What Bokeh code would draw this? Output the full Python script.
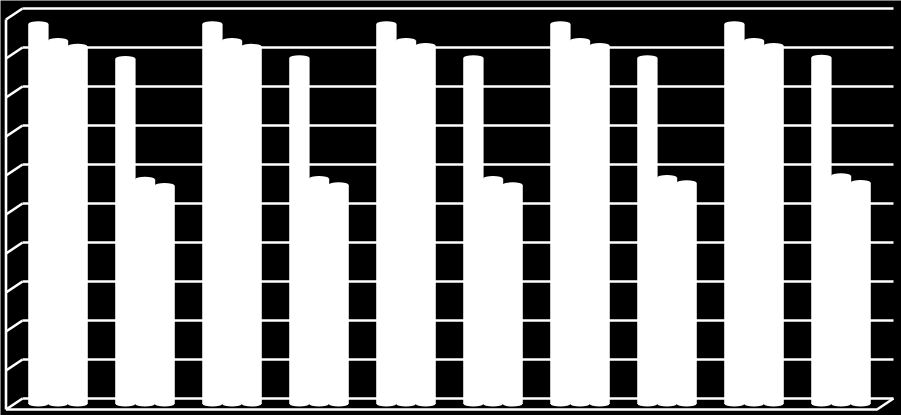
from bokeh.plotting import figure
from bokeh.models import ColumnDataSource
from bokeh.embed import file_html
from bokeh.resources import INLINE

categories = ["1", "2", "3", "4", "5", "6", "7", "8", "9", "10"]
series_a = [97.5, 88.6, 97.5, 88.8, 97.5, 88.8, 97.5, 88.8, 97.5, 88.9]
series_b = [93.2, 57.6, 93.2, 57.8, 93.2, 57.8, 93.2, 58.1, 93.2, 58.5]
series_c = [91.7, 56.0, 91.7, 56.2, 91.9, 56.2, 91.9, 56.7, 91.9, 56.8]
value_ticks = [0, 10, 20, 30, 40, 50, 60, 70, 80, 90, 100]

PX_X = 87.0      # pixels per category
PX_Y = 3.9       # pixels per value unit
X0 = 57.5        # pixel of the first category centre
Y0 = 398.0       # pixel of value 0 on the back wall
W, H = 901, 415
BAR_W = 19.6 / PX_X
CAP_H = 5.0 / PX_Y
DEPTH_X = 16.5 / PX_X   # wall depth
DEPTH_Y = 11.0 / PX_Y
BAR_DY = 5.5 / PX_Y     # bars stand mid-way along the floor
BACK_L = (22 - X0) / PX_X
BACK_R = (893 - X0) / PX_X
FRONT_L = BACK_L - DEPTH_X
FRONT_R = BACK_R - DEPTH_X
LINE = 2.6

p = figure(
    width=W, height=H, output_backend="svg", toolbar_location=None,
    x_range=(-X0 / PX_X, (W - X0) / PX_X),
    y_range=((Y0 - H) / PX_Y, Y0 / PX_Y),
    background_fill_color="black", border_fill_color="black",
    min_border=0, min_border_left=0, min_border_right=0,
    min_border_top=0, min_border_bottom=0, outline_line_color=None,
)
p.axis.visible = False
p.grid.visible = False

# back wall gridlines and side wall diagonals, one set per value tick
p.segment(x0=[BACK_L] * len(value_ticks), y0=value_ticks,
          x1=[BACK_R] * len(value_ticks), y1=value_ticks,
          line_color="white", line_width=LINE)
p.segment(x0=[FRONT_L] * len(value_ticks), y0=[v - DEPTH_Y for v in value_ticks],
          x1=[BACK_L] * len(value_ticks), y1=value_ticks,
          line_color="white", line_width=LINE)
# front edge of the left wall and of the floor
lo, hi = value_ticks[0], value_ticks[-1]
p.line([FRONT_L, FRONT_L], [lo - DEPTH_Y, hi - DEPTH_Y], line_color="white", line_width=LINE)
p.line([FRONT_L, FRONT_R, BACK_R], [lo - DEPTH_Y, lo - DEPTH_Y, lo],
       line_color="white", line_width=LINE)

# cylinders
for k, vals in enumerate([series_a, series_b, series_c]):
    xs = [i + (k - 1) * BAR_W for i in range(len(categories))]
    tops = [v - BAR_DY for v in vals]
    bottoms = [-BAR_DY] * len(vals)
    src = ColumnDataSource(dict(x=xs, top=tops, bottom=bottoms))
    p.vbar(x="x", top="top", bottom="bottom", width=BAR_W * 1.04, source=src,
           fill_color="white", line_color=None)
    p.ellipse(x="x", y="top", width=BAR_W, height=CAP_H, source=src,
              fill_color="white", line_color=None)
    p.ellipse(x="x", y="bottom", width=BAR_W, height=CAP_H, source=src,
              fill_color="white", line_color=None)

open("out.html", "w").write(file_html(p, INLINE))
